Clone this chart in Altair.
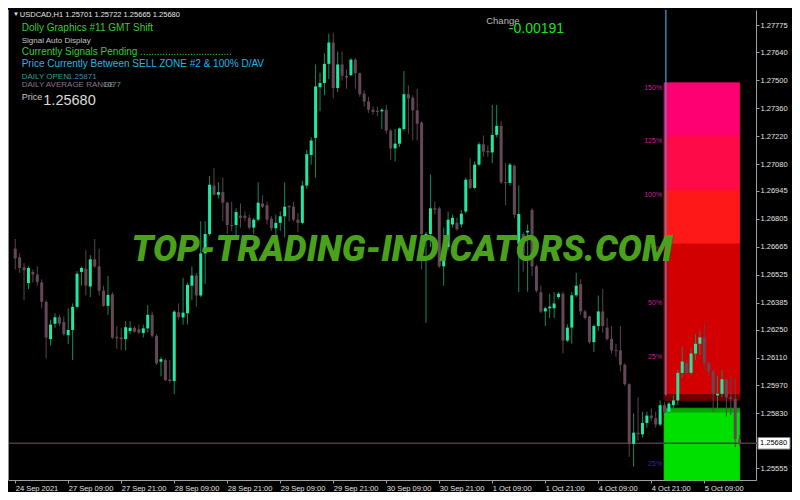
import json
import pandas as pd
import altair as alt

# ---------------- data (USDCAD H1, bars 0..164) ----------------
opens = [
    1.26656, 1.26612, 1.26563, 1.26483, 1.26539, 1.26526, 1.26486, 1.26389, 1.26202, 1.26279,
    1.26312, 1.26288, 1.26222, 1.26248, 1.26364, 1.26539, 1.26555, 1.26466, 1.26602, 1.26567,
    1.26445, 1.26369, 1.26427, 1.26214, 1.26210, 1.26202, 1.26243, 1.26259, 1.26251, 1.26233,
    1.26256, 1.26324, 1.26219, 1.26089, 1.26097, 1.26000, 1.25992, 1.26337, 1.26311, 1.26332,
    1.26470, 1.26521, 1.26421, 1.26632, 1.26729, 1.26972, 1.26926, 1.26939, 1.26886, 1.26774,
    1.26774, 1.26821, 1.26821, 1.26810, 1.26761, 1.26801, 1.26882, 1.26874, 1.26805, 1.26758,
    1.26785, 1.26818, 1.26869, 1.26866, 1.26801, 1.26785, 1.26972, 1.27125, 1.27211, 1.27465,
    1.27486, 1.27582, 1.27689, 1.27461, 1.27579, 1.27522, 1.27525, 1.27603, 1.27535, 1.27433,
    1.27393, 1.27352, 1.27347, 1.27344, 1.27352, 1.27247, 1.27158, 1.27182, 1.27255, 1.27430,
    1.27412, 1.27349, 1.27287, 1.26696, 1.26729, 1.26858, 1.26858, 1.26567, 1.26664, 1.26777,
    1.26785, 1.26777, 1.26842, 1.27004, 1.26960, 1.27077, 1.27179, 1.27146, 1.27138, 1.27226,
    1.27271, 1.26988, 1.26985, 1.27072, 1.26680, 1.26729, 1.26737, 1.26850, 1.26567, 1.26437,
    1.26341, 1.26357, 1.26357, 1.26413, 1.26430, 1.26195, 1.26260, 1.26422, 1.26478, 1.26341,
    1.26316, 1.26187, 1.26268, 1.26341, 1.26260, 1.26203, 1.26146, 1.26146, 1.26073, 1.25976,
    1.25677, 1.25733, 1.25725, 1.25782, 1.25819, 1.25806, 1.25774, 1.25871, 1.25838, 1.25871,
    1.25895, 1.26033, 1.26082, 1.26033, 1.26130, 1.26179, 1.26211, 1.26081, 1.26041, 1.25920,
    1.25928, 1.26001, 1.25911, 1.25903, 1.25701,
]
highs = [
    1.26704, 1.26632, 1.26583, 1.26567, 1.26551, 1.26567, 1.26502, 1.26397, 1.26300, 1.26332,
    1.26324, 1.26316, 1.26356, 1.26381, 1.26543, 1.26567, 1.26648, 1.26623, 1.26704, 1.26656,
    1.26470, 1.26518, 1.26437, 1.26267, 1.26259, 1.26292, 1.26292, 1.26267, 1.26275, 1.26275,
    1.26372, 1.26340, 1.26227, 1.26113, 1.26105, 1.26097, 1.26348, 1.26381, 1.26510, 1.26486,
    1.26567, 1.26534, 1.26793, 1.26793, 1.27020, 1.27061, 1.26988, 1.27012, 1.26891, 1.26891,
    1.26858, 1.26882, 1.26842, 1.26826, 1.26810, 1.26988, 1.26923, 1.26891, 1.26818, 1.26826,
    1.26842, 1.26988, 1.26874, 1.26891, 1.26834, 1.26996, 1.27150, 1.27214, 1.27579, 1.27538,
    1.27635, 1.27733, 1.27737, 1.27644, 1.27644, 1.27554, 1.27611, 1.27611, 1.27538, 1.27449,
    1.27417, 1.27368, 1.27368, 1.27360, 1.27376, 1.27255, 1.27255, 1.27263, 1.27546, 1.27474,
    1.27425, 1.27457, 1.27295, 1.26740, 1.27028, 1.26891, 1.26866, 1.26761, 1.26842, 1.26826,
    1.26810, 1.26850, 1.27012, 1.27109, 1.27093, 1.27190, 1.27223, 1.27174, 1.27376, 1.27376,
    1.27295, 1.27085, 1.27085, 1.27077, 1.26972, 1.26737, 1.26777, 1.26858, 1.26575, 1.26470,
    1.26365, 1.26430, 1.26438, 1.26438, 1.26440, 1.26276, 1.26438, 1.26535, 1.26502, 1.26349,
    1.26320, 1.26276, 1.26421, 1.26454, 1.26308, 1.26268, 1.26179, 1.26268, 1.26081, 1.25980,
    1.25830, 1.25911, 1.25838, 1.25838, 1.25855, 1.25838, 1.25895, 1.25887, 1.25887, 1.25919,
    1.26049, 1.26163, 1.26098, 1.26155, 1.26227, 1.26243, 1.26284, 1.26090, 1.26049, 1.26017,
    1.26049, 1.26005, 1.26017, 1.26009, 1.25722,
]
lows = [
    1.26551, 1.26534, 1.26397, 1.26453, 1.26486, 1.26470, 1.26356, 1.26105, 1.26170, 1.26259,
    1.26267, 1.26219, 1.26178, 1.26097, 1.26356, 1.26470, 1.26421, 1.26413, 1.26559, 1.26421,
    1.26364, 1.26324, 1.26202, 1.26154, 1.26146, 1.26146, 1.26227, 1.26235, 1.26227, 1.26210,
    1.26235, 1.26210, 1.26073, 1.26016, 1.25992, 1.25984, 1.25927, 1.26300, 1.26275, 1.26275,
    1.26397, 1.26364, 1.26413, 1.26478, 1.26721, 1.26923, 1.26907, 1.26793, 1.26729, 1.26745,
    1.26721, 1.26761, 1.26793, 1.26753, 1.26729, 1.26793, 1.26858, 1.26777, 1.26745, 1.26712,
    1.26745, 1.26712, 1.26793, 1.26793, 1.26737, 1.26777, 1.26955, 1.27077, 1.27012, 1.27344,
    1.27425, 1.27506, 1.27409, 1.27441, 1.27498, 1.27457, 1.27522, 1.27457, 1.27417, 1.27368,
    1.27336, 1.27328, 1.27320, 1.27255, 1.27231, 1.27101, 1.27093, 1.27166, 1.27247, 1.27231,
    1.27198, 1.27198, 1.26551, 1.26284, 1.26664, 1.26826, 1.26559, 1.26470, 1.26648, 1.26761,
    1.26745, 1.26761, 1.26834, 1.26955, 1.26955, 1.27069, 1.27117, 1.27117, 1.27085, 1.27214,
    1.26980, 1.26874, 1.26972, 1.26810, 1.26438, 1.26540, 1.26440, 1.26518, 1.26437, 1.26332,
    1.26268, 1.26308, 1.26308, 1.26405, 1.26130, 1.26187, 1.26179, 1.26413, 1.26324, 1.26300,
    1.26179, 1.26138, 1.26243, 1.26235, 1.26195, 1.26130, 1.26114, 1.26041, 1.25968, 1.25612,
    1.25563, 1.25693, 1.25709, 1.25758, 1.25790, 1.25758, 1.25766, 1.25830, 1.25830, 1.25855,
    1.25871, 1.26009, 1.26025, 1.26025, 1.26098, 1.26122, 1.26049, 1.26017, 1.25838, 1.25855,
    1.25911, 1.25814, 1.25822, 1.25660, 1.25665,
]
closes = [
    1.26607, 1.26559, 1.26547, 1.26559, 1.26526, 1.26489, 1.26389, 1.26210, 1.26275, 1.26312,
    1.26280, 1.26227, 1.26248, 1.26364, 1.26530, 1.26559, 1.26470, 1.26602, 1.26567, 1.26445,
    1.26369, 1.26424, 1.26210, 1.26206, 1.26202, 1.26262, 1.26259, 1.26240, 1.26235, 1.26256,
    1.26324, 1.26219, 1.26081, 1.26102, 1.25997, 1.25992, 1.26340, 1.26313, 1.26335, 1.26474,
    1.26521, 1.26421, 1.26632, 1.26729, 1.26976, 1.26926, 1.26939, 1.26886, 1.26774, 1.26770,
    1.26839, 1.26810, 1.26810, 1.26761, 1.26801, 1.26886, 1.26866, 1.26801, 1.26758, 1.26785,
    1.26818, 1.26866, 1.26863, 1.26801, 1.26785, 1.26972, 1.27129, 1.27198, 1.27469, 1.27486,
    1.27582, 1.27689, 1.27461, 1.27579, 1.27522, 1.27514, 1.27603, 1.27535, 1.27430, 1.27393,
    1.27352, 1.27341, 1.27341, 1.27352, 1.27247, 1.27158, 1.27182, 1.27258, 1.27430, 1.27409,
    1.27349, 1.27282, 1.26729, 1.26729, 1.26858, 1.26850, 1.26567, 1.26664, 1.26801, 1.26810,
    1.26753, 1.26831, 1.27001, 1.26960, 1.27077, 1.27179, 1.27142, 1.27138, 1.27226, 1.27271,
    1.26988, 1.26985, 1.27077, 1.26826, 1.26829, 1.26632, 1.26745, 1.26567, 1.26445, 1.26340,
    1.26357, 1.26365, 1.26381, 1.26430, 1.26195, 1.26260, 1.26422, 1.26470, 1.26341, 1.26308,
    1.26187, 1.26268, 1.26341, 1.26268, 1.26203, 1.26146, 1.26143, 1.26073, 1.25976, 1.25677,
    1.25733, 1.25725, 1.25782, 1.25819, 1.25806, 1.25774, 1.25871, 1.25835, 1.25879, 1.25895,
    1.26033, 1.26090, 1.26033, 1.26130, 1.26179, 1.26211, 1.26081, 1.26041, 1.25928, 1.25928,
    1.26001, 1.25911, 1.25903, 1.25701, 1.25680,
]

time_labels = ["24 Sep 2021", "27 Sep 09:00", "27 Sep 21:00", "28 Sep 09:00", "28 Sep 21:00",
               "29 Sep 09:00", "29 Sep 21:00", "30 Sep 09:00", "30 Sep 21:00", "1 Oct 09:00",
               "1 Oct 21:00", "4 Oct 09:00", "4 Oct 21:00", "5 Oct 09:00"]
price_ticks = [1.27775, 1.27640, 1.27500, 1.27360, 1.27220, 1.27080, 1.26945, 1.26805,
               1.26665, 1.26525, 1.26385, 1.26250, 1.26110, 1.25970, 1.25830, 1.25555]

current_price = 1.25680
day_start_bar = 147.3
day_line_bottom = 1.25920

zone_tops = [1.27487, 1.27218, 1.26948, 1.26679, 1.25924, 1.25856, 1.25832]
zone_bottoms = [1.27218, 1.26948, 1.26679, 1.25924, 1.25895, 1.25832, 1.25496]
zone_start, zone_end = 146.9, 164.0

level_labels = ["150%", "125%", "100%", "75%", "50%", "25%", "25%"]
level_prices = [1.27487, 1.27218, 1.26948, 1.26679, 1.26410, 1.26140, 1.25602]

# ---------------- styles ----------------
zone_colors = ["#ff0070", "#ff0a48", "#ff1818", "#d20000", "#6a0000", "#00a800", "#00e000"]
level_colors = ["#c8209e"] * 6 + ["#2a2aa8"]
BULL_BODY, BULL_WICK = "#1ee8a2", "#138a5e"
BEAR_BODY, BEAR_WICK = "#654858", "#5a4452"
TXT_FONT = "Liberation Sans"

PW, PH = 748, 470
Y_MIN, Y_MAX = 1.25496, 1.27852
X_MIN, X_MAX = -0.5, 166.57
PPX = (Y_MAX - Y_MIN) / PH

df = pd.DataFrame({"i": list(range(len(opens))), "o": opens, "h": highs, "l": lows, "c": closes})
df["top"] = df[["o", "c"]].max(axis=1)
df["bot"] = df[["o", "c"]].min(axis=1)
thin = (df["top"] - df["bot"]) < PPX
mid = (df["top"] + df["bot"]) / 2
df.loc[thin, "top"] = mid[thin] + PPX / 2
df.loc[thin, "bot"] = mid[thin] - PPX / 2
bull = df[df["c"] >= df["o"]]
bear = df[df["c"] < df["o"]]

xs = alt.Scale(domain=[X_MIN, X_MAX], nice=False, zero=False)
ys = alt.Scale(domain=[Y_MIN, Y_MAX], nice=False, zero=False)

x_axis = alt.Axis(title="", orient="bottom", grid=False,
                  values=list(range(0, 12 * len(time_labels), 12)),
                  labelExpr=json.dumps(time_labels) + "[round(datum.value / 12)]",
                  domainColor="#a0a0a0", tickColor="#a0a0a0", tickSize=3,
                  labelColor="#e2e2e2", labelFont=TXT_FONT, labelFontSize=7.5,
                  labelAlign="left", labelBaseline="top", labelPadding=1,
                  labelOverlap=False, labelFlush=False)
y_axis = alt.Axis(title="", orient="right", grid=False, values=price_ticks,
                  labelExpr="format(datum.value, '.5f')",
                  domainColor="#a0a0a0", tickColor="#a0a0a0", tickSize=3,
                  labelColor="#e2e2e2", labelFont=TXT_FONT, labelFontSize=7.5,
                  labelPadding=1, labelOverlap=False, labelFlush=False,
                  labelBaseline="middle")


def X(f):
    return alt.X(f, type="quantitative", scale=xs, axis=x_axis)


def Y(f):
    return alt.Y(f, type="quantitative", scale=ys, axis=y_axis)


zones_df = pd.DataFrame({"x0": zone_start, "x1": zone_end, "top": zone_tops,
                         "bot": zone_bottoms, "col": zone_colors})
zones = alt.Chart(zones_df).mark_rect(strokeWidth=0.8).encode(
    x=X("x0"), x2="x1", y=Y("top"), y2="bot",
    color=alt.Color("col:N", scale=None), stroke=alt.Stroke("col:N", scale=None))

lab_df = pd.DataFrame({"x": zone_start, "p": level_prices, "t": level_labels, "col": level_colors})
zone_labels = alt.Chart(lab_df).mark_text(
    align="right", baseline="middle", dx=-2, dy=5, fontSize=7, font=TXT_FONT).encode(
    x=X("x"), y=Y("p"), text="t:N", color=alt.Color("col:N", scale=None))

vline = alt.Chart(pd.DataFrame({"x": [day_start_bar], "y0": [day_line_bottom], "y1": [Y_MAX]})).mark_rule(
    color="#3a98cf", strokeWidth=1.3).encode(x=X("x"), y=Y("y0"), y2="y1")

pline = alt.Chart(pd.DataFrame({"p": [current_price]})).mark_rule(
    color="#4a3e45", strokeWidth=1.5).encode(y=Y("p"), x=alt.value(0), x2=alt.value(PW + 2))

wick_bull = alt.Chart(bull).mark_rule(color=BULL_WICK, strokeWidth=1).encode(x=X("i"), y=Y("l"), y2="h")
wick_bear = alt.Chart(bear).mark_rule(color=BEAR_WICK, strokeWidth=1).encode(x=X("i"), y=Y("l"), y2="h")
body_bull = alt.Chart(bull).mark_bar(color=BULL_BODY, size=3).encode(x=X("i"), y=Y("bot"), y2="top")
body_bear = alt.Chart(bear).mark_bar(color=BEAR_BODY, size=3).encode(x=X("i"), y=Y("bot"), y2="top")

left_border = alt.Chart(pd.DataFrame({"a": [0]})).mark_rule(color="#8c8c8c", strokeWidth=1).encode(
    x=alt.value(0.5), y=alt.value(0), y2=alt.value(PH))

watermark = alt.Chart(pd.DataFrame({"t": ["TOP-TRADING-INDICATORS.COM"]})).mark_text(
    font="Roboto", fontSize=36, fontWeight=900, fontStyle="italic", color="#4aa21c",
    align="center", baseline="middle").encode(text="t:N", x=alt.value(394), y=alt.value(239.5))

annotations = [
    ("\u25bc", 4.9, 4.3, 6, "#e0e0e0"),
    ("USDCAD,H1  1.25701 1.25722 1.25665 1.25680", 11.8, 4.8, 7.5, "#e6e6e6"),
    ("Dolly Graphics #11 GMT Shift", 13.7, 17.8, 10, "#32cd32"),
    ("Signal Auto Display", 13.7, 30.9, 8, "#c4c4c4"),
    ("Currently Signals Pending .................................", 13.7, 42.0, 10, "#32cd32"),
    ("Price Currently Between SELL ZONE #2 & 100% D/AV", 13.7, 53.7, 10, "#1cb8e8"),
    ("DAILY OPEN", 13.7, 66.7, 8, "#20a890"),
    ("1.25871", 59.8, 66.7, 8, "#3f88b8"),
    ("DAILY AVERAGE RANGE", 13.7, 75.4, 8, "#8f7090"),
    ("1077", 95.1, 75.4, 8, "#5d9c96"),
    ("Price", 13.7, 87.1, 9, "#c8c8c8"),
    ("1.25680", 35.3, 91.4, 14.5, "#dadada"),
    ("Change", 478.2, 10.6, 9.5, "#b8b8b8"),
    ("-0.00191", 500.8, 18.8, 14, "#14e614"),
]
text_layers = []
for t, x, y, s, col in annotations:
    text_layers.append(
        alt.Chart(pd.DataFrame({"t": [t]})).mark_text(
            align="left", baseline="middle", font=TXT_FONT, fontSize=s, color=col).encode(
            text="t:N", x=alt.value(x), y=alt.value(y)))

box_df = pd.DataFrame({"p": [current_price], "bt": [current_price + 5.8 * PPX],
                       "bb": [current_price - 5.8 * PPX], "lbl": [f"{current_price:.5f}"]})
price_box = alt.Chart(box_df).mark_rect(fill="#ffffff", stroke="#808080", strokeWidth=1).encode(
    x=alt.value(PW + 2), x2=alt.value(PW + 34), y=Y("bt"), y2="bb")
price_txt = alt.Chart(box_df).mark_text(
    align="left", baseline="middle", font=TXT_FONT, fontSize=7.5, color="#000000").encode(
    x=alt.value(PW + 4), y=Y("p"), text="lbl:N")

chart = alt.layer(
    zones, zone_labels, vline, pline, wick_bull, wick_bear, body_bull, body_bear,
    watermark, *text_layers, price_box, price_txt, left_border,
).properties(
    width=PW, height=PH,
    padding={"left": 0, "top": 2, "right": 36, "bottom": 12},
    autosize=alt.AutoSizeParams(type="none"),
).configure(background="#000000").configure_view(strokeWidth=0)

chart.save("out.html", embed_options={"renderer": "svg", "actions": False})
